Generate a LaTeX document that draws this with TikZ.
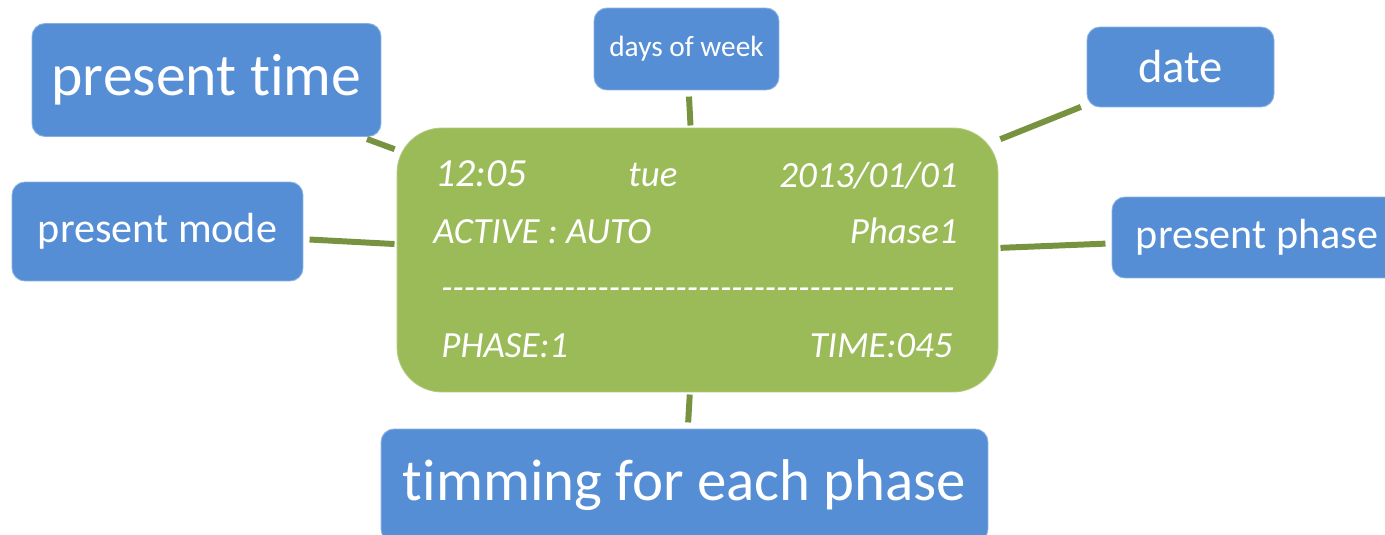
\documentclass[tikz,border=0pt]{standalone}
\usepackage{fontspec}
\setmainfont{Carlito}[Ligatures=NoCommon]
\usepackage{xcolor}
\usepackage{tikz}
\usetikzlibrary{positioning}
\definecolor{boxBlue}{HTML}{558ED5}
\definecolor{lcdGreen}{HTML}{9BBB59}
\definecolor{linkGreen}{HTML}{789340}
\newcommand{\lcddash}{-\kern0pt}

\begin{document}
\begin{tikzpicture}[x=0.02cm, y=-0.02cm,
		every node/.style={fill=boxBlue, draw=boxBlue!70!white, line width=0.5pt, text=white, rounded corners=0.26cm, inner sep=0pt},
		lcdtext/.style={fill=none, draw=none, font=\itshape\fontsize{21}{21}\selectfont},
		link/.style={draw=linkGreen, line width=3.4pt, shorten <=3.5pt, shorten >=1.2pt}]
			\useasboundingbox (0,0) rectangle (1385,534);
			\clip (0,0) rectangle (1385,534);
			% display
			\node[fill=lcdGreen, draw=lcdGreen!80!white, rounded corners=0.9cm, minimum width=12.02cm, minimum height=5.28cm] (lcd) at (697.5,260) {};
			\foreach \x/\y/\w/\h/\fs/\name/\txt in {206.5/80/6.98/2.26/34/ptime/present time, 686.5/49/3.70/1.64/16.7/days/days of week, 1180.5/67/3.74/1.60/26.5/date/date, 157.5/231.5/5.82/1.98/24/mode/present mode, 1257/237.5/5.80/1.62/24/phase/present phase, 684.5/485.5/12.14/2.26/33.5/timing/timming for each phase}
			{
				\node[minimum width=\w cm, minimum height=\h cm, font=\fontsize{\fs}{\fs}\selectfont] (\name) at (\x,\y) {\txt};
			}
			\node[lcdtext, font=\itshape\fontsize{22.7}{22.7}\selectfont, anchor=base west] (clock) at (435,186) {12:05};
			\node[lcdtext, anchor=base west] (weekday) at (628,186) {tue};
			\node[lcdtext, anchor=base east] (today) at (958,187) {2013/01/01};
			\node[lcdtext, anchor=base west] (active) at (433,243) {ACTIVE : AUTO};
			\node[lcdtext, anchor=base east] (phasenow) at (958,243) {Phase1};
			\node[lcdtext, font=\itshape\fontsize{20.75}{21}\selectfont, anchor=base west] (rule) at (441,299) {\foreach \k in {1,...,46}{\lcddash}};
			\node[lcdtext, anchor=base west] (phasenum) at (441,357) {PHASE:1};
			\node[lcdtext, anchor=base east] (phasetime) at (953,357) {TIME:045};
			\foreach \name in {ptime, days, date, mode, phase, timing}{
				\draw[link] (\name) -- (lcd);
			}
		\end{tikzpicture}
\end{document}
